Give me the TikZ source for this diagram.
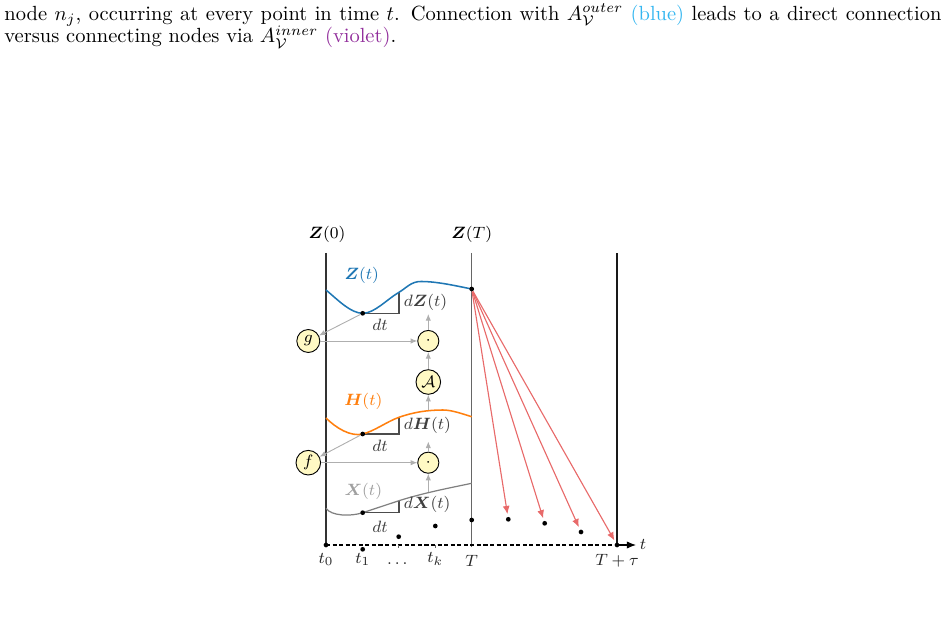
\documentclass[tikz,border=0pt]{standalone}
\usepackage{amsmath,amssymb,bm}
\usetikzlibrary{arrows.meta}
\definecolor{zblue}{RGB}{31,119,180}
\definecolor{horange}{RGB}{255,127,14}
\definecolor{xgray}{RGB}{128,128,128}
\definecolor{lgray}{RGB}{160,160,160}
\definecolor{agray}{RGB}{175,175,175}
\definecolor{redarr}{RGB}{232,106,106}
\definecolor{nodefill}{RGB}{255,249,196}
\definecolor{capblue}{RGB}{52,182,240}
\definecolor{capviolet}{RGB}{145,45,155}
\begin{document}
\begin{tikzpicture}[x=0.4878pt,y=-0.4878pt,
  lbl/.style={font=\fontsize{8}{9.6}\selectfont, inner sep=0pt},
  captext/.style={anchor=base west, inner sep=0pt, font=\fontsize{10}{12}\selectfont},
  opnode/.style={circle,draw=black,line width=0.45pt,fill=nodefill,inner sep=0pt,font=\fontsize{8}{9.6}\selectfont},
  garrow/.style={draw=agray,line width=0.45pt,-{Latex[length=3.2pt,width=2.6pt]}},
  rarrow/.style={draw=redarr,line width=0.55pt,-{Latex[length=4pt,width=3.4pt]},shorten >=1.2pt},
  tri/.style={draw=black!70,line width=0.5pt},
  pt/.style={circle,fill=black,inner sep=0pt,minimum size=2.3pt},
  vline/.style={line width=0.5pt},
  ticklbl/.style={font=\fontsize{8}{9.6}\selectfont, inner sep=0pt, text=black!85},
]
\useasboundingbox (0,0) rectangle (948,617);

% caption fragment
\node[captext] (cap1) at (4,20.3) {\hbox to 457.1pt{node $n_j$, occurring at every point in time $t$. Connection with $A_{\mathcal{V}}^{outer}$ \textcolor{capblue}{(blue)} leads to a direct connection}};
\node[captext] (cap2) at (4,42.5) {versus connecting nodes via $A_{\mathcal{V}}^{inner}$ \textcolor{capviolet}{(violet)}.};

% vertical lines
\coordinate (L0top) at (326,253); \coordinate (L0bot) at (326,545);
\coordinate (LTtop) at (471.7,253); \coordinate (LTbot) at (471.7,547.5);
\coordinate (LRtop) at (617,253.5); \coordinate (LRbot) at (617,545);
\draw[vline,black!80] (L0top) -- (L0bot);
\draw[vline,black!60] (LTtop) -- (LTbot);
\draw[vline,black!90] (LRtop) -- (LRbot);

\node[lbl] (z0) at (327,234) {$\bm{Z}(0)$};
\node[lbl] (zTl) at (471.7,234) {$\bm{Z}(T)$};

% key coordinates
\coordinate (zD) at (362.7,313.3); \coordinate (zK) at (399,292.3); \coordinate (zE) at (471.7,289);
\coordinate (hD) at (362.7,434);   \coordinate (hK) at (399,417.3); \coordinate (hE) at (471.7,416.7);
\coordinate (xD) at (362.7,512.7); \coordinate (xK) at (399,500.7); \coordinate (xE) at (471.7,483.3);

% triangles
\draw[tri] (zD) -- (zK |- zD) -- (zK);
\draw[tri] (hD) -- (hK |- hD) -- (hK);
\draw[tri] (xD) -- (xK |- xD) -- (xK);

% curves
\draw[zblue,line width=0.75pt] (326,290) .. controls (338,300) and (350.7,313.3) .. (zD)
  .. controls (374.7,313.3) and (387,299.2) .. (zK)
  .. controls (407,287.5) and (411,281.5) .. (421,281.5)
  .. controls (437,281.5) and (454.7,285.6) .. (zE);
\draw[horange,line width=0.75pt] (326,418) .. controls (336,428) and (350.7,437) .. (hD)
  .. controls (374.7,431) and (387,421.5) .. (hK)
  .. controls (414,412) and (428,410) .. (443,410)
  .. controls (452,410) and (462.7,414) .. (hE);
\draw[xgray,line width=0.6pt] (326,508.3) .. controls (331,516) and (350.7,516.7) .. (xD)
  .. controls (374.7,508.7) and (387,504.7) .. (xK)
  .. controls (423,493.1) and (447.7,488.3) .. (xE);

% labels
\node[lbl,text=zblue] (zlab) at (361.7,275) {$\bm{Z}(t)$};
\node[lbl,text=black!75,anchor=west] (dz) at (403.5,302) {$d\bm{Z}(t)$};
\node[lbl,text=black!75] (dtz) at (380,325) {$dt$};
\node[lbl,text=horange] (hlab) at (363.3,401.7) {$\bm{H}(t)$};
\node[lbl,text=black!75,anchor=west] (dh) at (403.5,425.7) {$d\bm{H}(t)$};
\node[lbl,text=black!75] (dth) at (380,446) {$dt$};
\node[lbl,text=lgray] (xlab) at (363.3,491.7) {$\bm{X}(t)$};
\node[lbl,text=black!75,anchor=west] (dx) at (403.5,504) {$d\bm{X}(t)$};
\node[lbl,text=black!75] (dtx) at (380,526.7) {$dt$};

% operation nodes
\node[opnode,minimum size=11.2pt] (g) at (308.3,341) {$g$};
\node[opnode,minimum size=10.3pt] (m1) at (428.3,341) {$\cdot$};
\node[opnode,minimum size=12pt] (A) at (428.3,382) {$\mathcal{A}$};
\node[opnode,minimum size=12pt] (f) at (308.3,462.7) {$f$};
\node[opnode,minimum size=10.3pt] (m2) at (428.3,462.7) {$\cdot$};

% curve dots
\node[pt] (dzD) at (zD) {};
\node[pt] (dzE) at (zE) {};
\node[pt] (dhD) at (hD) {};
\node[pt] (dxD) at (xD) {};

% gray arrows
\coordinate (zT1) at (428.3,314);
\coordinate (hA) at (428.3,410);
\coordinate (hT1) at (428.3,441.5);
\coordinate (xA) at (428.3,492);
\draw[garrow] (dzD) -- (g);
\draw[garrow] (g) -- (m1);
\draw[garrow] (m1) -- (zT1);
\draw[garrow] (A) -- (m1);
\draw[garrow] (hA) -- (A);
\draw[garrow] (dhD) -- (f);
\draw[garrow] (f) -- (m2);
\draw[garrow] (m2) -- (hT1);
\draw[garrow] (xA) -- (m2);

% bottom points
\node[pt] (p0) at (326,545) {};
\node[pt] (p1) at (362.7,549.3) {};
\node[pt] (p2) at (398.7,536.7) {};
\node[pt] (p3) at (435.3,526) {};
\node[pt] (p4) at (471.7,520) {};
\node[pt] (p5) at (508.3,519.3) {};
\node[pt] (p6) at (544.7,523.3) {};
\node[pt] (p7) at (581,532) {};
\node[pt] (p8) at (617,545) {};

% time axis
\coordinate (tend) at (636,545);
\draw[line width=0.5pt,dash pattern=on 2pt off 1.2pt] (p0.center) -- (p8.center);
\draw[line width=0.5pt,-{Latex[length=4.5pt,width=3.6pt]}] (p8.center) -- (tend);
\node[ticklbl] (tl) at (643,544) {$t$};
\draw[black!60,line width=0.4pt] (398.7,545) -- (398.7,548.5);
\draw[black!60,line width=0.4pt] (435.3,545) -- (435.3,548.5);

\node[ticklbl] (t0l) at (326,559.5) {$t_0$};
\node[ticklbl] (t1l) at (362.7,559.5) {$t_1$};
\node[ticklbl] (tdl) at (398.7,564) {$\dots$};
\node[ticklbl] (tkl) at (435.3,559) {$t_k$};
\node[ticklbl] (tTl) at (471.7,561) {$T$};
\node[ticklbl] (tTtl) at (617,560.5) {$T+\tau$};

% red arrows
\draw[rarrow] (dzE) -- (p5);
\draw[rarrow] (dzE) -- (p6);
\draw[rarrow] (dzE) -- (p7);
\draw[rarrow] (dzE) -- (p8);
\end{tikzpicture}
\end{document}
